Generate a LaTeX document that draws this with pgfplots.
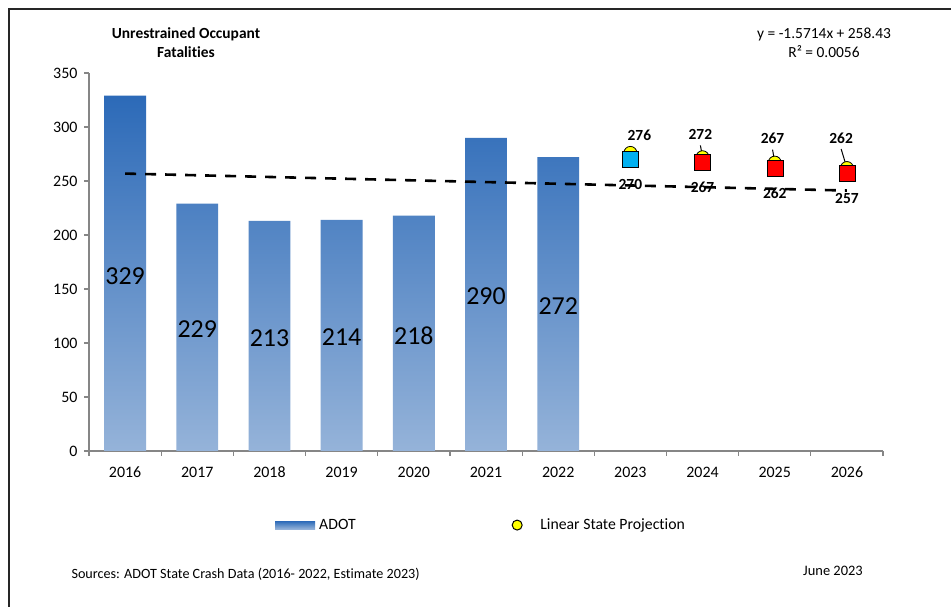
\documentclass[border=0pt]{standalone}
\usepackage{pgfplots}
\pgfplotsset{compat=1.18}
\usepackage{fontspec}
\setmainfont{Carlito}[Ligatures=NoCommon]
\definecolor{bartop}{RGB}{44,106,184}
\definecolor{barbot}{RGB}{149,179,217}
\definecolor{axgray}{RGB}{134,134,134}
\definecolor{projcyan}{RGB}{0,176,240}
\definecolor{projyel}{RGB}{255,255,0}
\begin{document}
\begin{tikzpicture}[x=1bp,y=1bp]
\useasboundingbox (0,0) rectangle (951,607);
\fill[white] (0,0) rectangle (951,607);
\draw[line width=2bp, black!85] (9,0) -- (9,598) -- (951,598);
\node[align=center, font=\fontsize{15.5}{19}\selectfont\bfseries] at (186,564.5) {Unrestrained Occupant\\Fatalities};
\node[align=center, font=\fontsize{15.5}{19}\selectfont] at (824,564.5) {y = -1.5714x + 258.43\\R² = 0.0056};
\node[anchor=west, font=\fontsize{14.2}{16}\selectfont] at (68,33) {Sources: ADOT State Crash Data (2016- 2022, Estimate 2023)};
\node[font=\fontsize{14.5}{16}\selectfont] at (833,36) {June 2023};
\begin{axis}[
  at={(89bp,156bp)}, anchor=south west,
  scale only axis, width=794bp, height=378bp,
  xmin=-0.5, xmax=10.5, ymin=0, ymax=350,
  axis lines=left,
  axis line style={-, draw=axgray, line width=1.2bp},
  clip=false,
  /pgf/number format/assume math mode=true,
  ytick={0,50,...,350},
  xtick={0,...,10},
  xticklabels={2016,2017,2018,2019,2020,2021,2022,2023,2024,2025,2026},
  minor xtick={-0.5,0.5,...,10.5},
  tick align=outside,
  major tick length=5bp, minor tick length=5bp,
  major x tick style={draw=none},
  tick style={draw=axgray, line width=1.2bp},
  ticklabel style={font=\fontsize{16}{18}\selectfont},
  x tick label style={text height=11bp, text depth=0pt, anchor=north, yshift=-7bp},
  y tick label style={xshift=-3bp},
  legend style={at={(0.2343,-0.196)}, anchor=west, draw=none, fill=none,
     inner sep=0pt, legend columns=2, font=\fontsize{15.8}{18}\selectfont,
     /tikz/every even column/.append style={column sep=154bp}},
  legend cell align=left,
]
% bars
\addplot[ybar, bar width=0.58, draw=none, top color=bartop, bottom color=barbot,
  legend image code/.code={\fill[top color=bartop, bottom color=barbot] (0bp,-4bp) rectangle (40bp,4bp); \path (42bp,0);}]
  coordinates {(0,329) (1,229) (2,213) (3,214) (4,218) (5,290) (6,272)};
\addlegendentry{ADOT}
% trend line
\addplot[forget plot, black, line width=2.6bp, dash pattern=on 11bp off 9bp]
  coordinates {(0,256.86) (1,255.29) (2,253.72) (3,252.14) (4,250.57) (5,249.00) (6,247.43) (7,245.86) (8,244.29) (9,242.72) (10,241.14)};
% circles
\addplot[only marks, mark=*, mark size=6.5bp, mark options={fill=projyel, draw=black, line width=0.8bp},
  legend image code/.code={\draw[fill=projyel, draw=black, line width=1bp] (0,0) circle (5bp); \path (-5bp,0) (21bp,0);}]
  coordinates {(7,276) (8,272) (9,267) (10,262)};
\addlegendentry{Linear State Projection}
% squares
\addplot[forget plot, only marks, mark=square*, mark size=8bp, mark options={fill=projcyan, draw=none},
  nodes near coords, point meta=y,
  every node near coord/.style={anchor=center, yshift=-25bp, font=\fontsize{15.5}{17}\selectfont\bfseries}]
  coordinates {(7,270)};
\addplot[forget plot, only marks, mark=square*, mark size=8bp, mark options={fill=red, draw=none},
  nodes near coords, point meta=y,
  every node near coord/.style={anchor=center, yshift=-25bp, font=\fontsize{15.5}{17}\selectfont\bfseries}]
  coordinates {(8,267) (9,262) (10,257)};
% leader lines
\addplot[forget plot, black, line width=1bp, quiver={u=\thisrow{u}, v=\thisrow{v}}]
  table[row sep=\\] {x y u v\\ 8 272 -0.03 11\\ 9 267 -0.03 12\\ 10 262 -0.08 17.6\\};
% projection labels
\addplot[forget plot, draw=none, mark=none, nodes near coords, point meta=explicit symbolic,
  every node near coord/.style={anchor=center, font=\fontsize{15.5}{17}\selectfont\bfseries}]
  coordinates {(7.125,292.6)[276] (7.97,293.5)[272] (8.97,289.8)[267] (9.92,289.8)[262]};
% bar labels
\addplot[forget plot, draw=none, mark=none, nodes near coords, point meta=explicit symbolic,
  every node near coord/.style={anchor=center, font=\fontsize{26}{28}\selectfont}]
  coordinates {(0,162)[329] (1,112.5)[229] (2,104.5)[213] (3,105)[214] (4,107)[218] (5,143)[290] (6,134)[272]};
\end{axis}
\end{tikzpicture}
\end{document}
